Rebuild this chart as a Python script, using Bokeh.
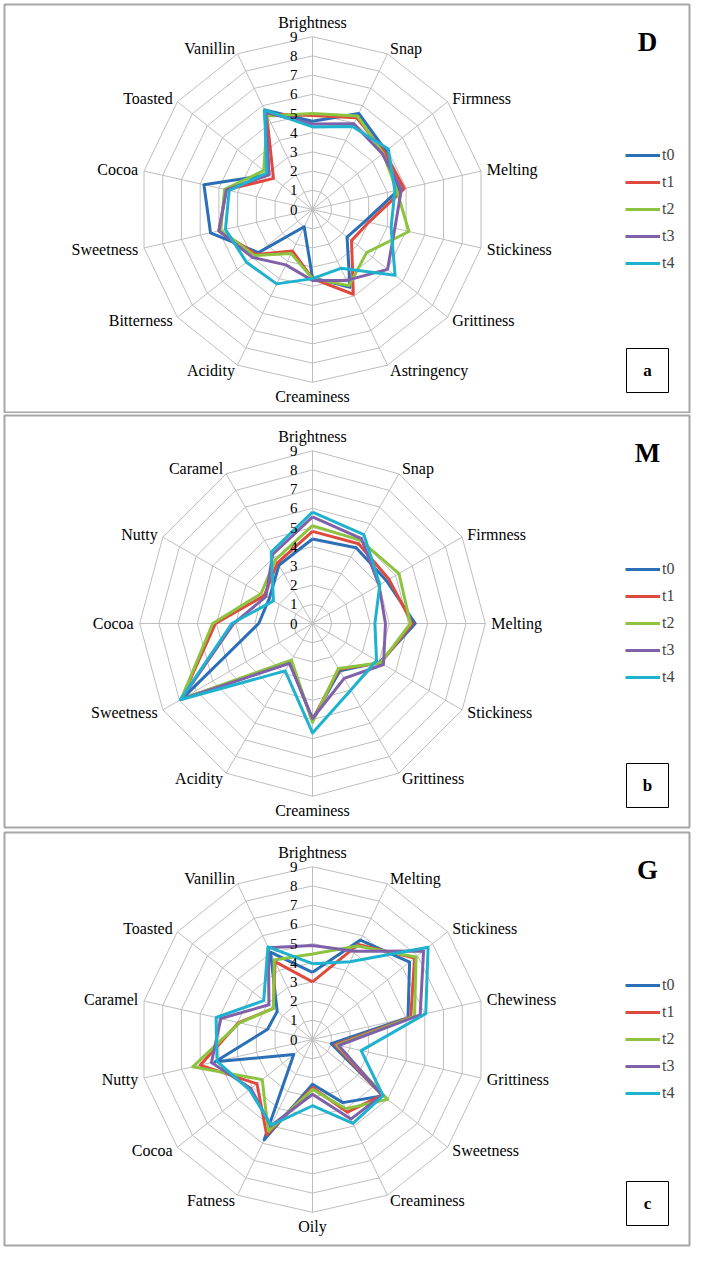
import numpy as np
from bokeh.plotting import figure
from bokeh.layouts import column
from bokeh.models import Range1d, Legend, LegendItem
from bokeh.embed import file_html
from bokeh.resources import INLINE

# ---------------- data ----------------
series = ["t0", "t1", "t2", "t3", "t4"]
colors = ["#2B6FB6", "#DF4A3E", "#8CC43F", "#8060A8", "#1FB2CF"]
ticks = [0, 1, 2, 3, 4, 5, 6, 7, 8, 9]

attrs_a = ["Brightness", "Snap", "Firmness", "Melting", "Stickiness", "Grittiness",
           "Astringency", "Creaminess", "Acidity", "Bitterness", "Sweetness", "Cocoa",
           "Toasted", "Vanillin"]
a_t0 = [4.6, 5.55, 4.9, 4.6, 2.8, 2.3, 4.5, 3.55, 1.0, 3.6, 5.45, 5.8, 2.9, 5.75]
a_t1 = [4.9, 5.3, 4.8, 4.9, 3.0, 2.6, 4.9, 3.6, 2.4, 3.75, 5.0, 4.6, 2.6, 5.5]
a_t2 = [5.0, 5.4, 4.7, 4.5, 5.15, 3.6, 4.4, 3.6, 2.55, 3.85, 4.9, 4.7, 3.25, 5.4]
a_t3 = [4.45, 4.95, 4.65, 4.75, 4.4, 5.0, 4.1, 3.7, 3.2, 4.0, 5.0, 4.6, 2.9, 5.6]
a_t4 = [4.3, 4.8, 5.05, 4.4, 4.2, 5.5, 3.4, 3.6, 4.3, 4.4, 4.65, 4.45, 3.05, 5.75]

attrs_b = ["Brightness", "Snap", "Firmness", "Melting", "Stickiness", "Grittiness",
           "Creaminess", "Acidity", "Sweetness", "Cocoa", "Nutty", "Caramel"]
b_t0 = [4.4, 4.55, 4.45, 5.35, 4.05, 2.85, 5.0, 2.35, 7.85, 2.8, 2.6, 3.5]
b_t1 = [4.8, 4.8, 4.6, 5.2, 4.1, 2.75, 5.05, 2.3, 7.9, 5.05, 2.9, 3.65]
b_t2 = [5.1, 5.0, 5.2, 5.1, 4.1, 2.7, 5.15, 2.2, 7.9, 5.2, 3.1, 3.85]
b_t3 = [5.55, 5.1, 4.0, 3.8, 4.27, 3.3, 4.95, 2.4, 7.9, 4.1, 2.8, 4.15]
b_t4 = [5.8, 5.35, 4.05, 3.25, 3.85, 4.0, 5.7, 2.85, 7.95, 4.2, 2.35, 4.3]

attrs_c = ["Brightness", "Melting", "Stickiness", "Chewiness", "Grittiness", "Sweetness",
           "Creaminess", "Oily", "Fatness", "Cocoa", "Nutty", "Caramel", "Toasted", "Vanillin"]
c_t0 = [3.5, 5.75, 6.47, 5.1, 1.0, 4.7, 3.65, 2.33, 5.8, 1.25, 5.2, 2.4, 2.35, 5.05]
c_t1 = [3.0, 5.5, 6.8, 5.25, 1.2, 4.65, 4.2, 2.5, 5.5, 3.7, 6.0, 3.95, 2.6, 4.5]
c_t2 = [4.45, 5.4, 6.9, 5.45, 1.3, 5.0, 4.0, 2.6, 5.3, 3.35, 6.4, 3.9, 2.6, 4.6]
c_t3 = [4.9, 5.1, 7.4, 5.75, 1.4, 4.65, 4.6, 2.85, 5.0, 4.1, 5.4, 4.9, 2.9, 5.3]
c_t4 = [3.95, 4.5, 7.7, 6.05, 2.6, 4.7, 4.85, 3.45, 4.95, 4.2, 5.1, 5.15, 3.25, 5.35]

panel_letters = ["D", "M", "G"]
box_letters = ["a", "b", "c"]

# ---------------- layout ----------------
K = 19.2            # px per unit
CX = 320            # page x of radar centre
FONT = "Liberation Serif"
GRID = "#BEBEBE"

panels = [
    # (attrs, data, fig_h, border_top, border_bottom, frame_top_page, centre_y_page)
    (attrs_a, [a_t0, a_t1, a_t2, a_t3, a_t4], 413, 4, 1, 12, 217),
    (attrs_b, [b_t0, b_t1, b_t2, b_t3, b_t4], 416, 2, 2, 423, 631),
    (attrs_c, [c_t0, c_t1, c_t2, c_t3, c_t4], 420, 3, 4, 840, 1047),
]

FRAME_L, FRAME_R = 12, 697
figs = []
for pi, (attrs, data, fh, bt, bb, ftop, cyp) in enumerate(panels):
    fw = 693
    frame_h = fh - bt - bb
    above = cyp - ftop
    below = frame_h - above
    left = CX - FRAME_L
    right = FRAME_R - CX
    p = figure(width=fw, height=fh, output_backend="svg", toolbar_location=None,
               x_range=Range1d(-left / K, right / K), y_range=Range1d(-below / K, above / K),
               x_axis_type=None, y_axis_type=None,
               min_border_left=4, min_border_right=4, min_border_top=bt, min_border_bottom=bb)
    p.grid.visible = False
    p.outline_line_color = "#A6A6A6"
    p.outline_line_width = 2
    p.background_fill_color = "white"
    p.border_fill_color = "white"

    n = len(attrs)
    ang = np.pi / 2 - 2 * np.pi * np.arange(n) / n
    cs, sn = np.cos(ang), np.sin(ang)
    rmax = ticks[-1]

    # rings
    for r in ticks[1:]:
        xs = list(r * cs) + [r * cs[0]]
        ys = list(r * sn) + [r * sn[0]]
        p.line(xs, ys, line_color=GRID, line_width=1)
    # spokes
    p.segment(x0=[0] * n, y0=[0] * n, x1=list(rmax * cs), y1=list(rmax * sn),
              line_color=GRID, line_width=1)

    # series
    items = []
    for s, col, vals in zip(series, colors, data):
        v = np.array(vals)
        xs = list(v * cs) + [v[0] * cs[0]]
        ys = list(v * sn) + [v[0] * sn[0]]
        r = p.line(xs, ys, line_color=col, line_width=3, line_join="round")
        items.append(LegendItem(label=s, renderers=[r]))

    # tick labels
    p.text(x=[0] * len(ticks), y=ticks, text=[str(t) for t in ticks],
           x_offset=-15, text_align="right", text_baseline="middle",
           text_font=FONT, text_font_size="15px", text_color="black")

    # axis labels
    for i, name in enumerate(attrs):
        th = 2 * np.pi * i / n
        sx, sy = np.sin(th), np.cos(th)
        if abs(sx) < 1e-6:
            align = "center"
            base = "bottom" if sy > 0 else "top"
        else:
            align = "left" if sx > 0 else "right"
            base = "middle"
        p.text(x=[rmax * cs[i]], y=[rmax * sn[i]], text=[name],
               x_offset=6 * sx, y_offset=-6 * sy,
               text_align=align, text_baseline=base,
               text_font=FONT, text_font_size="16px", text_color="black")

    # legend
    leg = Legend(items=items, location=(621, below - 64), orientation="vertical",
                 glyph_width=35, glyph_height=20, label_height=20, spacing=7,
                 padding=0, margin=0, label_standoff=2,
                 label_text_font=FONT, label_text_font_size="16px",
                 border_line_alpha=0, background_fill_alpha=0)
    p.add_layout(leg)

    # panel letter
    def d(xp, yp):
        return (xp - CX) / K, (cyp - yp) / K
    lx, ly = d(655, ftop + 37)
    p.text(x=[lx], y=[ly], text=[panel_letters[pi]], text_align="center",
           text_baseline="middle", text_font=FONT, text_font_size="27px",
           text_font_style="bold", text_color="black")
    # letter box
    bx0, by0 = d(634, ftop + frame_h - 64)
    bx1, by1 = d(676, ftop + frame_h - 20)
    p.quad(left=[bx0], right=[bx1], top=[by0], bottom=[by1], fill_color="white",
           line_color="black", line_width=1)
    p.text(x=[(bx0 + bx1) / 2], y=[(by0 + by1) / 2], text=[box_letters[pi]],
           text_align="center", text_baseline="middle", text_font=FONT,
           text_font_size="17px", text_font_style="bold", text_color="black")
    figs.append(p)

layout = column(*figs, spacing=0)
open("out.html", "w").write(file_html(layout, INLINE))
